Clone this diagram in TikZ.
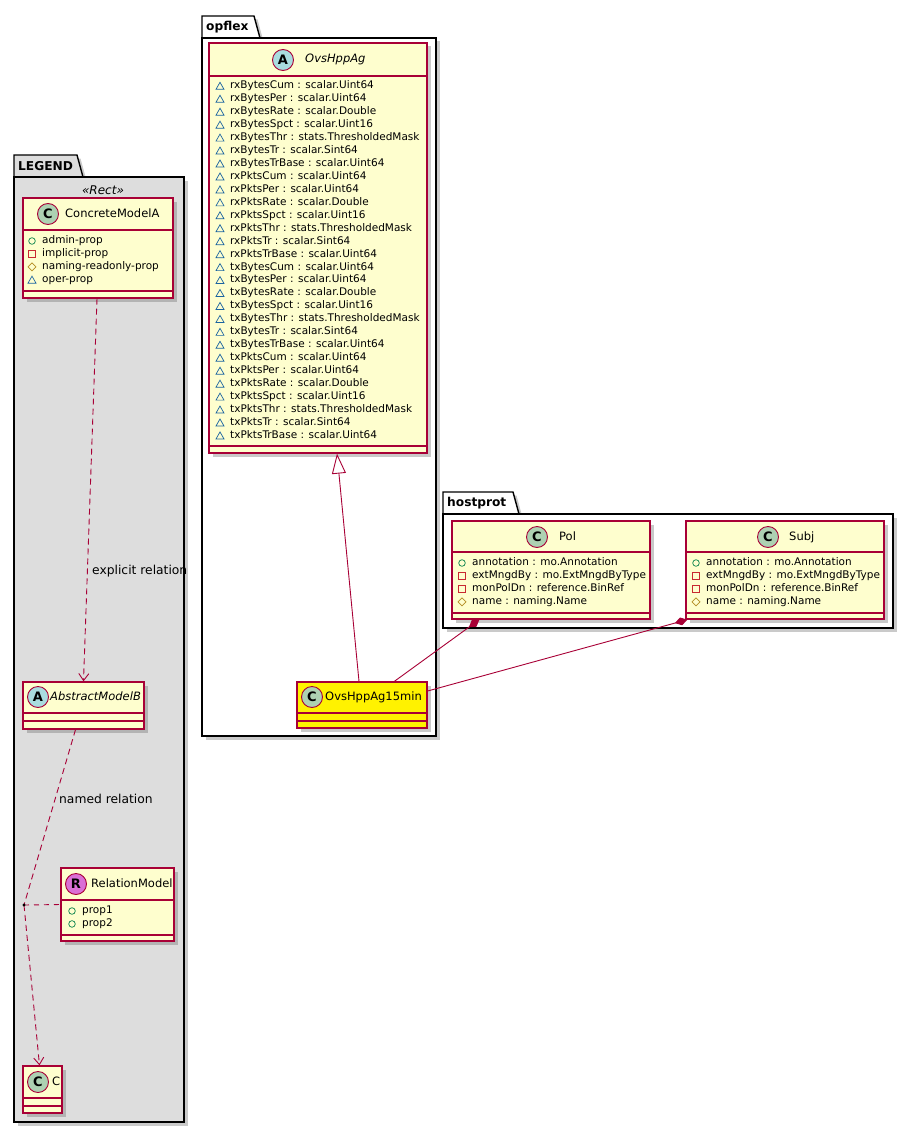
\documentclass[tikz,border=0pt]{standalone}
\usepackage{fontspec}
\setmainfont{DejaVu Sans}
\usepackage{tikz}
\usetikzlibrary{arrows.meta}
\usetikzlibrary{shadows}
\usetikzlibrary{positioning}
\definecolor{umlBorder}{HTML}{A80036}
\definecolor{umlFill}{HTML}{FEFECE}
\definecolor{spotC}{HTML}{ADD1B2}
\definecolor{spotA}{HTML}{A9DCDF}
\definecolor{spotR}{HTML}{DA70D6}
\definecolor{legendGray}{HTML}{DDDDDD}
\definecolor{visPub}{HTML}{038048}
\definecolor{visPriv}{HTML}{C82930}
\definecolor{visProt}{HTML}{B38D22}
\definecolor{visPkg}{HTML}{1963A0}
%% Visibility icons in front of the attributes.
\newcommand{\iconPub}[1]{\draw[iconLine,draw=visPub] #1 circle (3.3);}
\newcommand{\iconPriv}[1]{\draw[iconLine,draw=visPriv] #1 ++(-3.3,-3.3) rectangle ++(6.6,6.6);}
\newcommand{\iconProt}[1]{\draw[iconLine,draw=visProt] #1 ++(-4,0) -- ++(4,-4) -- ++(4,4) -- ++(-4,4) -- cycle;}
\newcommand{\iconPkg}[1]{\draw[iconLine,draw=visPkg] #1 ++(-4,3.3) -- ++(8,0) -- ++(-4,-7) -- cycle;}
\newcommand{\umlPackage}[8]{%%
  %% #1 name, #2 label, #3 fill, #4 left, #5 top, #6 right, #7 bottom, #8 tab width
  %% The tab with its label.
  \draw[packageLine,fill=#3] (#4,#5) -- ++(0,-22) -- ++(#8,0) -- ++(6,22) -- cycle;
  \node[packageLabel] (#1-label) at (#4+4,#5-11) {#2};
  %% The body of the package.
  \draw[packageLine,fill=#3] (#4,#5) rectangle (#6,#7);
}
\newcommand{\umlClass}[8]{%%
  %% #1 name, #2 fill, #3 left, #4 top, #5 right, #6 bottom, #7 header line, #8 separator
  \node[classBox,fill=#2,minimum width={#5-#3},minimum height={#6-#4}] (#1) at ({(#3+#5)/2},{(#4+#6)/2}) {};
  \draw[classLine] (#3,#7) -- (#5,#7);
  \draw[classLine] (#3,#8) -- (#5,#8);
}
\newcommand{\umlHead}[7]{%%
  %% #1 name, #2 spot colour, #3 letter, #4 spot x, #5 y, #6 title x, #7 title
  \node[spot,fill=#2] (#1-spot) at (#4,#5) {#3};
  \node[classTitle] (#1-title) at (#6,#5) {#7};
}
\newcommand{\umlAttrs}[4]{%%
  %% #1 name, #2 icon x, #3 first row y, #4 list of visibility/text
  \foreach \vis/\txt [count=\i] in {#4} {%%
    \csname icon\vis\endcsname{(#2,{#3+12.95*(\i-1)})}
    \node[attrText] (#1-a\i) at (#2+10,{#3+12.95*(\i-1)}) {\txt};
  }%%
}

\begin{document}
\begin{tikzpicture}[%%
  x=1pt,y=-1pt,%%
  umlShadow/.style={drop shadow={shadow xshift=3.5pt,shadow yshift=-3.5pt,fill=black!60,opacity=0.35}},%%
  packageLine/.style={draw=black,line width=1.4pt,umlShadow},%%
  packageLabel/.style={anchor=west,inner sep=0,font=\bfseries\fontsize{12.2}{14}\selectfont},%%
  classBox/.style={rectangle,draw=umlBorder,line width=1.3pt,inner sep=0,umlShadow},%%
  classLine/.style={draw=umlBorder,line width=1.1pt},%%
  spot/.style={circle,draw=umlBorder,line width=0.9pt,minimum size=21,inner sep=0,font=\bfseries\fontsize{13}{13}\selectfont},%%
  classTitle/.style={anchor=west,inner sep=0,text height=8.5,text depth=2.5,font=\fontsize{11.5}{13}\selectfont},%%
  attrText/.style={anchor=west,inner sep=0,text height=7.6,text depth=2.2,font=\fontsize{10.5}{13}\selectfont},%%
  iconLine/.style={line width=0.7pt},%%
  edgeLabel/.style={anchor=west,inner sep=0,font=\fontsize{12.3}{14}\selectfont},%%
  relLine/.style={draw=umlBorder,line width=0.9pt,dash pattern=on 6pt off 4pt},%%
  solidLine/.style={draw=umlBorder,line width=0.9pt},%%
]
\useasboundingbox (0,0) rectangle (914,1132);
%%
%% The packages.
\umlPackage{legend}{LEGEND}{legendGray}{14}{177}{184}{1122}{63}
\umlPackage{opflex}{opflex}{white}{202}{38}{436}{736}{52}
\umlPackage{hostprot}{hostprot}{white}{443}{514}{893}{628}{70}
\node[font=\itshape\fontsize{12}{14}\selectfont,inner sep=0] (legend-stereo) at (103,190) {«Rect»};
%%
%% The legend classes.
\umlClass{concreteA}{umlFill}{23}{198}{173}{298}{230}{291}
\umlHead{concreteA}{spotC}{C}{48}{214}{65}{ConcreteModelA}
\umlAttrs{concreteA}{32}{241}{Pub/admin-prop,Priv/implicit-prop,Prot/naming-readonly-prop,Pkg/oper-prop}
\umlClass{abstractB}{umlFill}{23}{682}{144}{729}{713}{721}
\umlHead{abstractB}{spotA}{A}{38}{697}{50}{\itshape AbstractModelB}
\umlClass{relModel}{umlFill}{61}{868}{174}{941}{900}{935}
\umlHead{relModel}{spotR}{R}{76}{884}{91}{RelationModel}
\umlAttrs{relModel}{72}{911}{Pub/prop1,Pub/prop2}
\umlClass{cModel}{umlFill}{23}{1066}{62}{1113}{1098}{1106}
\umlHead{cModel}{spotC}{C}{38}{1082}{52}{C}
%%
%% The opflex classes.
\umlClass{ovsAg}{umlFill}{209}{43}{427}{453}{76}{446}
\umlHead{ovsAg}{spotA}{A}{283}{60}{305}{\itshape OvsHppAg}
\umlAttrs{ovsAg}{220}{86}{%%
  Pkg/rxBytesCum : scalar.Uint64,Pkg/rxBytesPer : scalar.Uint64,Pkg/rxBytesRate : scalar.Double,%%
  Pkg/rxBytesSpct : scalar.Uint16,Pkg/rxBytesThr : stats.ThresholdedMask,Pkg/rxBytesTr : scalar.Sint64,%%
  Pkg/rxBytesTrBase : scalar.Uint64,Pkg/rxPktsCum : scalar.Uint64,Pkg/rxPktsPer : scalar.Uint64,%%
  Pkg/rxPktsRate : scalar.Double,Pkg/rxPktsSpct : scalar.Uint16,Pkg/rxPktsThr : stats.ThresholdedMask,%%
  Pkg/rxPktsTr : scalar.Sint64,Pkg/rxPktsTrBase : scalar.Uint64,Pkg/txBytesCum : scalar.Uint64,%%
  Pkg/txBytesPer : scalar.Uint64,Pkg/txBytesRate : scalar.Double,Pkg/txBytesSpct : scalar.Uint16,%%
  Pkg/txBytesThr : stats.ThresholdedMask,Pkg/txBytesTr : scalar.Sint64,Pkg/txBytesTrBase : scalar.Uint64,%%
  Pkg/txPktsCum : scalar.Uint64,Pkg/txPktsPer : scalar.Uint64,Pkg/txPktsRate : scalar.Double,%%
  Pkg/txPktsSpct : scalar.Uint16,Pkg/txPktsThr : stats.ThresholdedMask,Pkg/txPktsTr : scalar.Sint64,%%
  Pkg/txPktsTrBase : scalar.Uint64}
\umlClass{ovs15}{yellow}{297}{682}{427}{728}{713}{721}
\umlHead{ovs15}{spotC}{C}{312}{697}{325}{OvsHppAg15min}
%%
%% The hostprot classes.
\umlClass{pol}{umlFill}{452}{521}{650}{619}{552}{613}
\umlHead{pol}{spotC}{C}{537}{537}{559}{Pol}
\umlAttrs{pol}{462}{563}{Pub/annotation : mo.Annotation,Priv/extMngdBy : mo.ExtMngdByType,%%
  Priv/monPolDn : reference.BinRef,Prot/name : naming.Name}
\umlClass{subj}{umlFill}{686}{521}{884}{619}{552}{613}
\umlHead{subj}{spotC}{C}{768}{537}{789}{Subj}
\umlAttrs{subj}{696}{563}{Pub/annotation : mo.Annotation,Priv/extMngdBy : mo.ExtMngdByType,%%
  Priv/monPolDn : reference.BinRef,Prot/name : naming.Name}
%%
%% The relations of the legend.
\coordinate (relDot) at (24,905);
\draw[relLine,-{Straight Barb[length=7pt,width=10pt]}] ([xshift=-1]concreteA.south) -- (abstractB.north);
\node[edgeLabel] (explicit-label) at (92,571) {explicit relation};
\draw[relLine] ([xshift=-8]abstractB.south) -- (relDot);
\draw[relLine,-{Straight Barb[length=7pt,width=10pt]}] (relDot) -- ([xshift=-3]cModel.north);
\draw[relLine,dash pattern=on 5pt off 5pt] (relDot) -- (relModel.west);
\node[edgeLabel] (named-label) at (59,799) {named relation};
\fill (relDot) circle (1.7);
%%
%% Inheritance and composition.
\draw[solidLine,-{Triangle[length=20pt,width=14pt,fill=white]}] ([xshift=-3]ovs15.north) -- ([xshift=19]ovsAg.south);
\draw[solidLine,{Diamond[length=13pt,width=8pt]}-] ([xshift=28]pol.south west) -- ([xshift=98]ovs15.north west);
\draw[solidLine,{Diamond[length=13pt,width=8pt]}-] ([xshift=2]subj.south west) -- ([yshift=14]ovs15.east);
\end{tikzpicture}
\end{document}
